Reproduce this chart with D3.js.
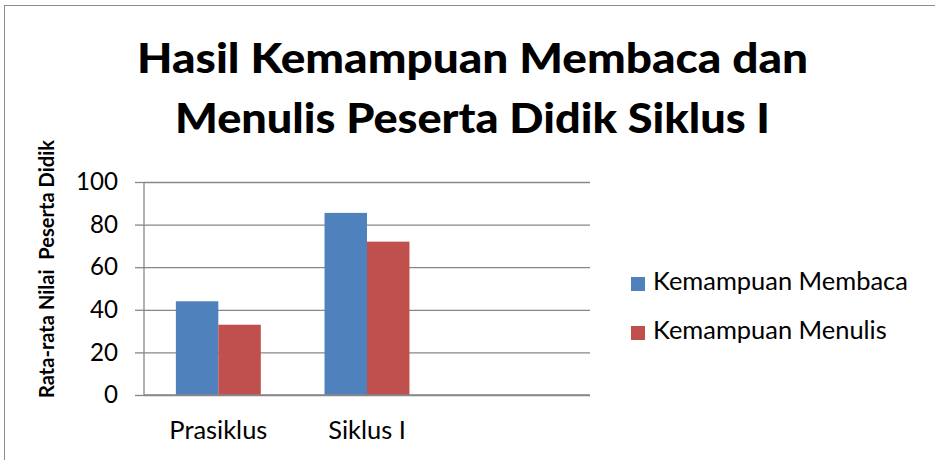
<!DOCTYPE html>
<html>
<head>
<meta charset="utf-8">
<script src="https://cdn.jsdelivr.net/npm/d3@7"></script>
<style>
  html, body { margin: 0; padding: 0; background: #fff; }
  svg { display: block; font-family: Lato, "Open Sans", sans-serif; }
</style>
</head>
<body>
<svg id="chart" width="935" height="460"></svg>
<script>
// ---- data ----
const titleLines = ["Hasil Kemampuan Membaca dan", "Menulis Peserta Didik Siklus I"];
const yAxisTitle = "Rata-rata Nilai  Peserta Didik";
const categories = ["Prasiklus", "Siklus I"];
const seriesNames = ["Kemampuan Membaca", "Kemampuan Menulis"];
const membaca = [44, 85.5];
const menulis = [33, 72];
const yTicks = [0, 20, 40, 60, 80, 100];
const colors = ["#4F81BD", "#C0504D"];

// ---- layout ----
const svg = d3.select("#chart");
const plot = { left: 144, right: 590, top: 182, bottom: 395 };

function fit(sel, target) {
  const n = sel.node();
  const fs = parseFloat(sel.attr("font-size"));
  const w = n.getComputedTextLength();
  sel.attr("font-size", (fs * target / w).toFixed(2));
  return fs * target / w;
}

// outer border
svg.append("rect").attr("x", 4.5).attr("y", 5.5).attr("width", 960).attr("height", 480)
  .attr("fill", "none").attr("stroke", "#8c8c8c").attr("stroke-width", 1);

// title
const titleBase = [73, 133];
const titleWidths = [671, 595];
titleLines.forEach((t, i) => {
  svg.append("text").attr("x", 472.5).attr("y", titleBase[i])
    .attr("text-anchor", "middle").attr("font-weight", 900).attr("font-size", 41)
    .attr("textLength", titleWidths[i]).attr("lengthAdjust", "spacingAndGlyphs")
    .attr("fill", "#000").text(t);
});

// scales
const slots = [...categories, "__empty__"];
const x = d3.scaleBand().domain(slots).range([plot.left, plot.right]).paddingInner(0).paddingOuter(0);
const x1 = d3.scaleBand().domain(seriesNames).range([0, x.bandwidth()]).paddingInner(0).paddingOuter(0.75);
const y = d3.scaleLinear().domain([0, 100]).range([plot.bottom, plot.top]);

// gridlines
const grid = svg.append("g").attr("transform", `translate(${plot.left},0)`)
  .call(d3.axisLeft(y).tickValues(yTicks).tickSize(-(plot.right - plot.left)).tickFormat(""));
grid.select(".domain").remove();
grid.selectAll("line").attr("stroke", "#878787").attr("stroke-width", 1.3);

// y axis
const yAxis = svg.append("g").attr("transform", `translate(${plot.left},0)`)
  .call(d3.axisLeft(y).tickValues(yTicks).tickSize(9).tickPadding(17));
yAxis.select(".domain").attr("stroke", "#878787").attr("stroke-width", 1.3)
  .attr("d", `M0,${plot.top}V${plot.bottom}`);
yAxis.selectAll(".tick line").attr("stroke", "#878787").attr("stroke-width", 1.3);
const yLabels = yAxis.selectAll(".tick text").attr("font-family", "Lato").attr("font-size", 24)
  .attr("fill", "#000");
{
  const ref = yLabels.filter(d => d === 100);
  const w = ref.node().getComputedTextLength();
  yLabels.attr("font-size", (24 * 42 / w).toFixed(2));
}

// bars
const seriesData = [membaca, menulis];
const bars = svg.append("g");
categories.forEach((c, ci) => {
  seriesNames.forEach((s, si) => {
    bars.append("rect")
      .attr("x", x(c) + x1(s))
      .attr("y", y(seriesData[si][ci]))
      .attr("width", x1.bandwidth())
      .attr("height", y(0) - y(seriesData[si][ci]))
      .attr("fill", colors[si]);
  });
});

// x axis line
svg.append("line").attr("x1", plot.left).attr("x2", plot.right)
  .attr("y1", y(0)).attr("y2", y(0)).attr("stroke", "#878787").attr("stroke-width", 1.3);

// x category labels
const xAxis = svg.append("g").attr("transform", `translate(0,${plot.bottom})`)
  .call(d3.axisBottom(x).tickValues(categories).tickSize(0).tickPadding(0));
xAxis.select(".domain").remove();
const xLabels = xAxis.selectAll(".tick text").attr("font-family", "Lato").attr("font-size", 24)
  .attr("fill", "#000").attr("dy", null).attr("y", 44);
{
  const ref = xLabels.filter(d => d === "Prasiklus");
  const w = ref.node().getComputedTextLength();
  xLabels.attr("font-size", (24 * 98 / w).toFixed(2));
}

// y axis title
const yt = svg.append("text").attr("transform", "translate(54,269) rotate(-90)")
  .attr("text-anchor", "middle").attr("font-weight", "bold").attr("font-size", 16)
  .attr("fill", "#000").attr("xml:space", "preserve").style("white-space", "pre").text(yAxisTitle);
fit(yt, 258);

// legend
const legendY = [277, 326];
const leg = svg.append("g");
let legScale = null;
seriesNames.forEach((s, i) => {
  leg.append("rect").attr("x", 631).attr("y", legendY[i]).attr("width", 14).attr("height", 14)
    .attr("fill", colors[i]);
  const t = leg.append("text").attr("x", 653).attr("y", legendY[i] + 13)
    .attr("font-size", 24).attr("fill", "#000").text(s);
  if (i === 0) legScale = fit(t, 255);
  else t.attr("font-size", legScale.toFixed(2));
});
</script>
</body>
</html>
